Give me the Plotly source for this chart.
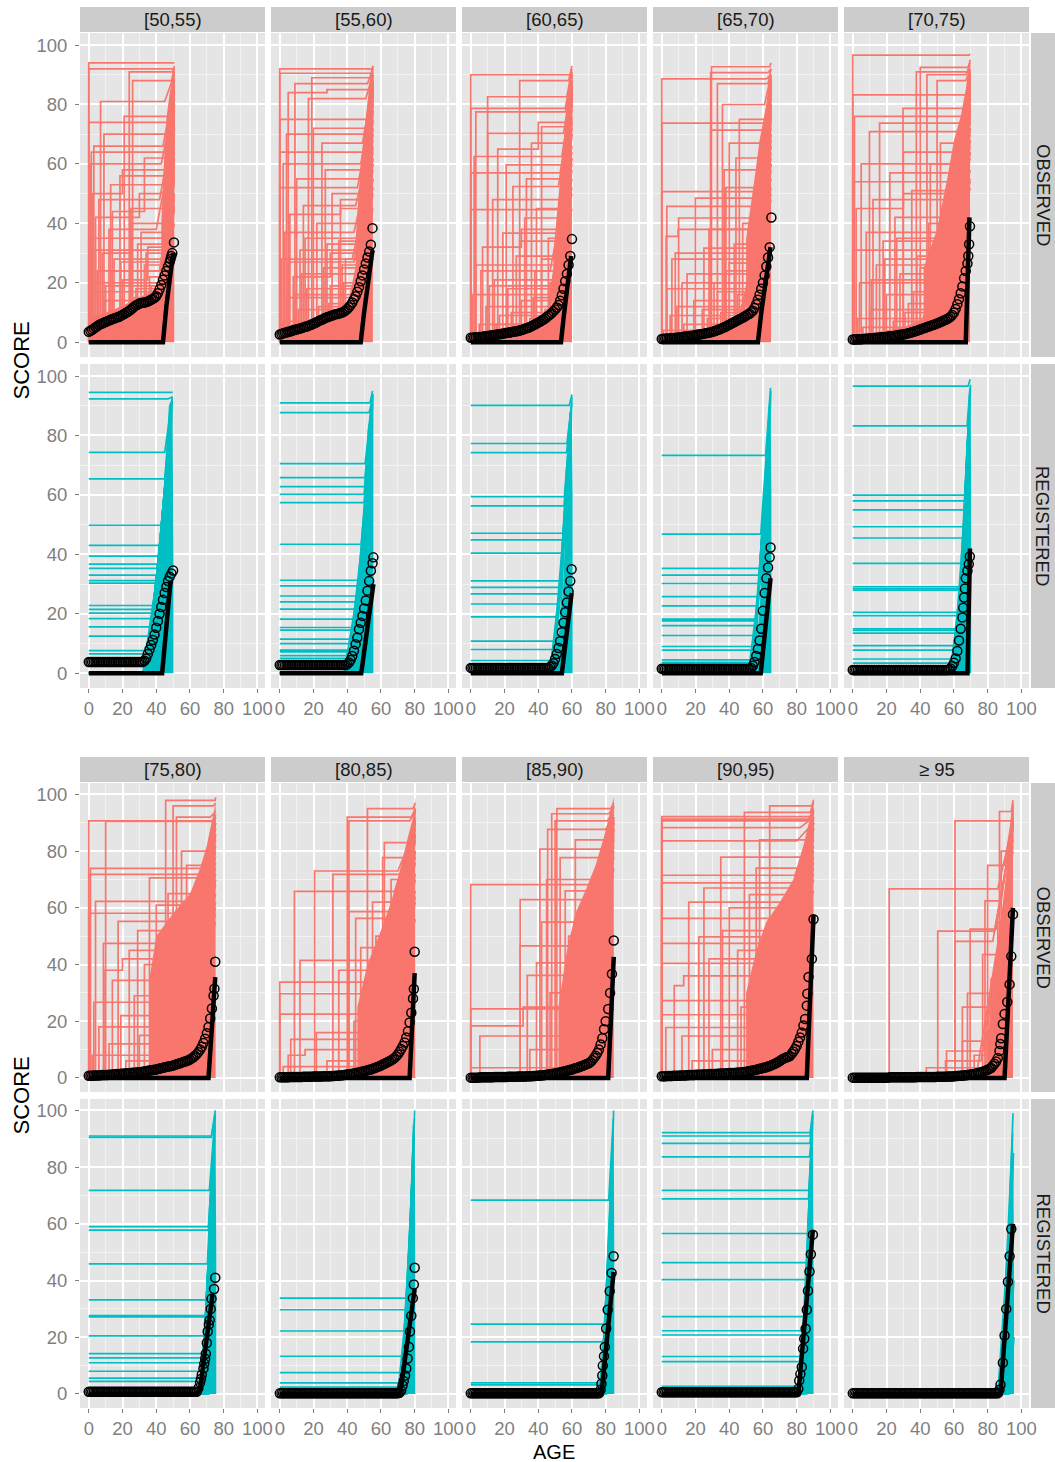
import plotly.graph_objects as go

W, H = 1055, 1462

GROUPS = ["[50,55)", "[55,60)", "[60,65)", "[65,70)", "[70,75)",
          "[75,80)", "[80,85)", "[85,90)", "[90,95)", "\u2265 95"]
ROW_LABELS = ["OBSERVED", "REGISTERED"]
END_AGE = [50.7, 55.2, 60.0, 64.8, 69.6, 75.2, 80.4, 84.8, 90.0, 95.0]

# ---- observed trajectories: (onset, level, last_age, final) or
# ---- (onset, level, step_age, level2, last_age, final)
OBS_50 = [
    (0, 94, 50.5, 94), (0, 92, 50.5, 93), (24, 91, 49.5, 92), (26, 88, 49, 92),
    (7, 81, 45, 90), (0, 74, 48, 91), (21, 76, 47, 89), (9, 70, 46, 88),
    (3, 66, 44, 86), (1.5, 64, 46, 84), (1, 60, 43, 82), (18.5, 56, 45, 80),
    (13, 53, 44, 78), (2, 50, 20, 58, 47, 85), (6, 48, 42, 75), (25, 45, 46, 80),
    (4, 42, 30, 50, 47, 82), (12, 38, 40, 70), (0, 35, 45, 72), (29, 33, 44, 65),
    (8, 30, 25, 40, 46, 70), (15, 28, 43, 60), (33, 26, 47, 75), (5, 24, 42, 55),
    (20, 21, 35, 32, 45, 62), (10, 19, 41, 50), (2, 17, 44, 58), (27, 15, 46, 66),
    (35, 13, 48, 80), (17, 11, 40, 45), (3, 9, 43, 50), (23, 8, 45, 60),
    (38, 7, 47, 72), (11, 6, 39, 40), (30, 5, 44, 55), (7, 4, 42, 45),
    (40, 12, 48, 85), (36, 22, 47, 78), (31, 37, 46, 76), (14, 44, 33, 62, 48, 88),
    (16, 3, 41, 48), (22, 10, 44, 62), (28, 18, 45, 70), (34, 30, 47, 80),
    (9, 14, 40, 46), (1, 20, 43, 56), (37, 19, 48, 84), (19, 27, 46, 72),
    (25, 35, 45, 74), (32, 8, 44, 60), (13, 24, 42, 54), (4, 31, 44, 62),
]
OBS_55 = [
    (0, 92, 55, 93), (0, 90.5, 54.5, 92), (19, 89, 54, 93), (9, 87, 52, 92),
    (5, 84, 28, 85, 53, 92), (17, 82, 51, 90), (0, 75, 52, 90), (4, 70, 50, 88),
    (20, 72, 53, 91), (25, 67, 49, 85), (0, 64, 51, 86), (2, 60, 48, 82),
    (27, 58, 50, 84), (10, 55, 47, 78), (0, 52, 46, 75), (31, 50, 49, 80),
    (14, 46, 45, 70), (6, 43, 36, 48, 48, 78), (22, 40, 47, 72), (3, 37, 44, 65),
    (35, 34, 50, 82), (12, 31, 46, 68), (1, 28, 43, 60), (26, 25, 48, 75),
    (8, 22, 30, 30, 45, 62), (38, 20, 51, 85), (16, 18, 44, 58), (4, 15, 42, 52),
    (29, 13, 47, 70), (11, 11, 43, 55), (41, 10, 52, 88), (20, 8, 45, 60),
    (2, 7, 40, 45), (33, 6, 49, 78), (7, 5, 44, 50), (24, 4, 46, 62),
    (44, 16, 53, 90), (39, 28, 51, 86), (36, 45, 50, 84), (15, 35, 47, 74),
    (18, 3, 44, 55), (23, 12, 46, 66), (30, 19, 48, 78), (37, 26, 50, 84),
    (9, 16, 42, 52), (13, 23, 45, 64), (42, 5, 52, 88), (5, 27, 44, 60),
    (28, 33, 48, 80), (33, 9, 47, 72),
]
OBS_60 = [
    (0, 90, 59.5, 91), (29, 88, 58, 93), (10, 82.6, 57, 92), (0, 78.7, 56, 90),
    (3, 77.5, 56, 88), (42, 72.5, 57, 90), (10, 70.3, 55, 88), (36, 67, 56, 86),
    (2, 62.5, 54, 84), (21, 59.7, 55, 85), (0, 57, 53, 82), (25, 52.4, 52, 80),
    (13, 48, 54, 82), (0, 44.6, 53, 80), (32, 41.8, 52, 75), (19, 36.7, 51, 72),
    (7, 32, 30, 38, 54, 85), (27, 29, 50, 70), (3, 26, 52, 74), (38, 24, 55, 86),
    (14, 21, 49, 66), (22, 18, 51, 72), (1, 16, 47, 60), (30, 14, 53, 80),
    (9, 12, 46, 55), (44, 11, 56, 88), (17, 9, 50, 70), (35, 8, 52, 76),
    (5, 6, 45, 50), (26, 5, 48, 62), (40, 4, 54, 84), (12, 3, 43, 45),
    (47, 20, 57, 90), (46, 35, 56, 88), (33, 55, 55, 86), (16, 65, 40, 74, 57, 91),
    (20, 2, 46, 58), (24, 10, 50, 74), (37, 15, 53, 82), (42, 28, 55, 86),
    (11, 19, 48, 64), (6, 24, 47, 62), (29, 34, 52, 78), (45, 7, 56, 88),
    (15, 6, 45, 52), (39, 45, 54, 84),
]
OBS_65 = [
    (29.5, 92.7, 64, 94), (29, 90.7, 63, 92), (0, 88.6, 62, 90), (33, 87, 63, 92),
    (36, 80, 61, 90), (0, 73.7, 61, 88), (29, 71.4, 60, 86), (46, 75, 62, 90),
    (40, 67, 59, 85), (44, 62, 60, 86), (37, 58, 58, 82), (0, 50.7, 58, 80),
    (20, 48.5, 57, 78), (3, 45.7, 56, 75), (10, 41.8, 57, 80), (2.6, 35.6, 9.7, 38, 55, 72),
    (25, 31.7, 56, 76), (6, 28, 54, 70), (40, 26.6, 58, 84), (15, 23, 53, 66),
    (31, 20, 55, 74), (3, 18, 50, 60), (45, 16, 59, 86), (19, 14, 52, 64),
    (9, 12, 48, 55), (35, 10, 56, 78), (27, 8, 53, 68), (13, 6, 47, 52),
    (50, 7, 60, 88), (1, 4, 45, 48), (42, 3, 57, 80), (22, 2.5, 51, 60),
    (48, 40, 60, 89), (38, 52, 59, 86),
    (17, 3, 49, 58), (24, 11, 53, 70), (33, 17, 55, 78), (38, 24, 58, 84),
    (12, 20, 51, 62), (5, 9, 46, 50), (43, 33, 59, 86), (47, 11, 60, 88),
    (28, 38, 57, 80), (8, 30, 52, 66),
]
OBS_70 = [
    (0, 96.6, 69, 97), (0, 83.2, 68, 92), (37.7, 91, 68, 94), (44, 90, 67, 93),
    (40, 92.5, 68.5, 95), (50, 88, 67, 92), (29.8, 78.7, 66, 90), (1, 76, 65, 88),
    (15.9, 73.7, 65, 87), (9.9, 70.9, 64, 85), (52, 67, 66, 88), (30, 64, 63, 84),
    (5, 60, 62, 82), (22, 57, 64, 84), (0, 54, 61, 80), (35, 51, 63, 82),
    (12, 48, 60, 76), (2, 45, 30, 50, 62, 80), (25, 42, 61, 78), (45, 40, 65, 88),
    (8, 37, 59, 72), (18, 34, 60, 75), (0, 31, 58, 70), (38, 29, 62, 80),
    (14, 26, 57, 68), (28, 23, 59, 74), (4, 20, 55, 62), (48, 18, 64, 86),
    (20, 16, 56, 66), (33, 13, 58, 72), (10, 11, 54, 58), (42, 9, 61, 78),
    (24, 7, 55, 64), (6, 5, 52, 55), (55, 6, 65, 90), (16, 3, 50, 52),
    (58, 22, 66, 91), (53, 45, 66, 90), (46, 60, 65, 89),
    (27, 2, 57, 68), (31, 10, 59, 76), (36, 17, 61, 80), (40, 25, 63, 84),
    (11, 21, 56, 64), (19, 28, 58, 72), (44, 14, 64, 88), (50, 30, 65, 90),
    (3, 8, 50, 54), (26, 35, 60, 78),
]
OBS_75 = [
    (0, 90.7, 74, 91), (10, 90.5, 73, 92), (45.6, 97.9, 75, 99), (50, 96, 74, 97),
    (52, 92, 72, 94), (1, 73.9, 70, 90), (0, 71.8, 69, 88), (36, 70.6, 68, 88),
    (4, 62.3, 66, 85), (40, 61, 67, 86), (0, 58.1, 65, 84), (17.4, 55.2, 64, 80),
    (8.7, 47.5, 63, 78), (24, 45, 62, 76), (14, 34.4, 60, 72), (27, 29, 59, 70),
    (3, 26.7, 58, 68), (19, 22, 57, 65), (6, 18, 55, 60), (30, 15, 58, 70),
    (12, 12, 54, 58), (2, 8, 52, 55), (22, 6, 56, 62), (33, 40, 64, 82),
    (29, 52, 66, 86), (55, 80, 71, 93), (58, 75, 70, 92), (47, 65, 69, 90),
    (9, 38, 20, 42, 61, 74),
]
OBS_80 = [
    (52, 95, 79, 97), (40, 92, 78, 95), (41, 90.7, 77, 94), (62, 83, 76, 92),
    (61, 77.7, 75, 90), (20.6, 73, 70, 88), (31.5, 71.8, 72, 90), (8.7, 65.8, 68, 86),
    (41, 58.7, 70, 86), (45, 56.3, 69, 84), (12, 41.5, 66, 80), (0, 33.8, 65, 78),
    (0, 29.7, 64, 76), (0, 22.5, 63, 72), (21.7, 16, 62, 70), (6.5, 13.6, 60, 66),
    (5, 8, 15, 10, 58, 62), (2, 4, 55, 56), (28, 6, 60, 64), (35, 38, 68, 84),
    (48, 46, 72, 88), (55, 62, 74, 91), (57, 50, 73, 90), (51, 25, 70, 86),
    (44, 20, 66, 80), (66, 70, 77, 95),
]
OBS_85 = [
    (51, 95, 83, 97), (48, 93.2, 82, 96), (50, 90.7, 81, 94), (45.6, 87.7, 80, 93),
    (41, 80.7, 79, 92), (53, 77.7, 78, 90), (0, 68.2, 62, 68.2, 80, 90),
    (29.3, 62.9, 78, 90), (29.3, 46.6, 77, 88), (39, 40.6, 76, 86), (33.5, 36.2, 75, 85),
    (0, 24.4, 74, 84), (0, 18.4, 31, 25, 73, 82), (5.4, 14.8, 70, 78), (0, 3.6, 68, 74),
    (35, 10, 72, 80), (42, 55, 78, 90), (47, 30, 76, 88), (56, 66, 80, 92),
    (58, 50, 79, 91), (60, 20, 77, 88), (62, 84, 82, 96), (45, 70, 79, 92),
]
OBS_90 = [
    (64, 96, 89, 98), (49, 93.7, 88, 97), (0, 92.2, 88, 95), (0, 91.3, 87, 94),
    (0, 90.7, 86, 93), (0, 88.3, 82, 92), (0, 83.6, 80, 90), (35, 77.9, 84, 92),
    (0, 71.5, 79, 90), (0, 68.8, 78, 88), (25, 67, 77, 88), (52, 64.7, 80, 90),
    (0, 56.3, 76, 86), (22, 49.8, 75, 85), (0, 47.5, 74, 84), (0, 40.4, 73, 82),
    (7.4, 32.6, 13, 36, 72, 80), (0, 27.3, 71, 78), (0, 22.3, 70, 76), (2.4, 17.8, 68, 74),
    (12, 14.8, 66, 72), (30, 10, 64, 70), (18, 6, 62, 66), (40, 60, 82, 92),
    (45, 45, 80, 90), (56, 74, 85, 94), (58, 84, 86, 95), (60, 35, 82, 90),
    (47, 25, 79, 88), (36, 52, 81, 91), (28, 42, 78, 88), (16, 62, 83, 92),
]
OBS_95 = [
    (87, 94, 94, 98), (60.6, 90.7, 94, 96), (21.6, 66.7, 86, 90), (78.4, 62.5, 88, 92),
    (50.4, 51.8, 84, 88), (69.6, 52.5, 85, 90), (60.6, 48.2, 83, 88), (77, 43.5, 86, 90),
    (68, 29.8, 84, 88), (65, 25, 82, 86), (65, 13, 80, 85), (55.6, 9.5, 78, 84),
    (55, 6, 76, 82), (43.6, 3.6, 74, 80), (80, 75, 90, 94), (82, 35, 89, 92),
    (84, 20, 88, 93), (86, 55, 92, 96), (88, 80, 93, 97), (79, 15, 87, 91),
    (72, 8, 85, 89),
]

# ---- regions where observed trajectories overlap into a solid mass (age, score)
DENSE_50 = [[(43, 0), (43, 40), (44.5, 60), (46, 75), (48, 84), (50.7, 92), (50.7, 0)],
            [(0, 0), (0, 8), (15, 11), (30, 15), (43, 19), (43, 0)]]
DENSE_55 = [[(45, 0), (45, 35), (48, 60), (51, 76), (53, 86), (55.2, 93), (55.2, 0)],
            [(0, 0), (0, 5), (20, 8), (35, 11), (45, 14), (45, 0)]]
DENSE_60 = [[(49, 0), (49, 30), (53, 55), (56, 72), (58, 85), (60, 93), (60, 0)],
            [(0, 0), (0, 3), (30, 6), (49, 10), (49, 0)]]
DENSE_65 = [[(50, 0), (50, 35), (55, 55), (58, 68), (62, 80), (64.8, 93), (64.8, 0)],
            [(0, 0), (0, 2), (30, 4), (50, 8), (50, 0)]]
DENSE_70 = [[(42, 0), (42, 25), (50, 38), (56, 55), (60, 68), (64, 76), (67, 85), (69.6, 96), (69.6, 0)],
            [(0, 0), (0, 2), (30, 5), (42, 8), (42, 0)]]
DENSE_75 = [[(36, 0), (36, 35), (40, 50), (50, 58), (60, 65), (66, 74), (70, 82), (73, 90), (75.2, 97), (75.2, 0)],
            [(0, 0), (0, 1), (36, 2.5), (36, 0)]]
DENSE_80 = [[(46, 0), (46, 25), (52, 40), (60, 52), (66, 62), (72, 75), (76, 85), (79, 92), (80.4, 99), (80.4, 0)]]
DENSE_85 = [[(52, 0), (52, 25), (57, 45), (62, 58), (68, 66), (74, 75), (79, 85), (82, 92), (84.8, 99), (84.8, 0)]]
DENSE_90 = [[(50, 0), (50, 30), (56, 45), (62, 55), (70, 62), (78, 70), (84, 82), (88, 92), (90, 99), (90, 0)]]
DENSE_95 = [[(80, 0), (80, 15), (84, 30), (88, 50), (91, 70), (93, 85), (95, 98), (95, 0)]]

# ---- registered trajectories: (level, age_leaving_level, final_age, final_score)
REG_50 = [
    (94.5, 49.6, 49.8, 94.5), (92.3, 47, 49.6, 93), (74.3, 45, 49.5, 92), (65.4, 45, 49.2, 90),
    (49.8, 43, 49, 88), (43, 42, 48.8, 86), (39.4, 41.5, 48.5, 85), (36.7, 41, 48.5, 84),
    (35.3, 41, 48.3, 83), (33, 40.5, 48, 82), (31.2, 40, 48, 80), (30.3, 40, 47.8, 78),
    (22.8, 38.5, 47.5, 76), (21.5, 38.5, 47.5, 74), (20.2, 38, 47.2, 72), (18.4, 37.5, 47, 70),
    (15.6, 37, 46.8, 68), (12.5, 36.5, 46.5, 65), (7.6, 35, 46, 60), (6.5, 35, 46, 58),
    (5.2, 34, 45.5, 55), (0, 32, 45, 50), (0, 34, 46, 62), (0, 36, 47, 75),
    (0, 38, 48, 82), (0, 40, 48.5, 88), (0, 42, 49, 91), (0, 44, 49.5, 93),
]
REG_55 = [
    (91, 53.5, 55, 95), (87.7, 53, 54.8, 92), (70.5, 50.6, 54.5, 90), (65.8, 50.5, 54.2, 88),
    (62.8, 50.3, 54, 86), (60.2, 50, 54, 85), (57.4, 50, 53.8, 84), (43.4, 48.3, 53.5, 80),
    (31.3, 47.5, 53, 76), (29.4, 47.3, 53, 74), (26, 47, 52.8, 72), (24, 46.8, 52.5, 70),
    (21.6, 46.5, 52.5, 68), (18.2, 46, 52, 65), (15.4, 45.5, 52, 62), (14.5, 45.5, 51.8, 60),
    (11.5, 44.5, 51.5, 58), (10, 44, 51.5, 55), (7.8, 43.5, 51, 52), (7.2, 43.5, 51, 50),
    (5.9, 43, 50.5, 48), (5, 43, 50.5, 46), (0, 38, 50, 40), (0, 40, 52, 60),
    (0, 42, 53, 75), (0, 44, 54, 85), (0, 46, 55, 92), (0, 48, 55.3, 94),
]
REG_60 = [
    (90.1, 58.4, 60, 93.8), (77.3, 57, 59.8, 91), (74.2, 56.8, 59.7, 90), (59.4, 55.5, 59.5, 88),
    (56.3, 55.3, 59.3, 86), (47.1, 54.8, 59, 84), (44.9, 54.6, 59, 82), (40.4, 54, 58.8, 80),
    (31.1, 53.5, 58.5, 76), (28.9, 53.3, 58.3, 74), (26.7, 53, 58, 72), (23.3, 52.6, 58, 70),
    (19, 52, 57.6, 66), (10.8, 50.5, 57, 60), (8, 50, 56.8, 56), (4.3, 49, 56.5, 52),
    (0, 46.8, 55, 40), (0, 48, 56, 55), (0, 50, 57, 70), (0, 52, 58, 80),
    (0, 53.5, 59, 88), (0, 55, 60, 93),
]
REG_65 = [
    (73.3, 61.6, 64.5, 96), (46.8, 58.7, 64.2, 92), (35.3, 58, 64, 88), (33, 58, 63.8, 86),
    (30.2, 57.5, 63.5, 84), (25.8, 57, 63.3, 80), (22.7, 56.8, 63, 78), (18.2, 56.3, 62.8, 75),
    (17.6, 56.2, 62.8, 72), (16, 56, 62.5, 70), (12.7, 55.5, 62.2, 66), (9, 55, 62, 62),
    (7.8, 54.8, 61.8, 58), (4.5, 54, 61.5, 54), (3.7, 53.8, 61.3, 50), (0, 51.4, 60, 40),
    (0, 53, 62, 65), (0, 55, 63, 80), (0, 57, 64, 90), (0, 58.5, 64.7, 95),
]
REG_70 = [
    (96.6, 68.4, 69.6, 98.9), (83.2, 67.8, 69.5, 96), (59.9, 66.5, 69.3, 94), (58, 66.4, 69.2, 92),
    (55, 66.2, 69.1, 90), (49.3, 65.8, 69, 88), (45.5, 65.5, 68.9, 86), (37, 65, 68.8, 84),
    (29.1, 64.4, 68.5, 80), (28.5, 64.3, 68.5, 78), (28, 64.2, 68.4, 76), (20.5, 63.5, 68.2, 72),
    (19.4, 63.4, 68.2, 70), (14.9, 62.8, 68, 66), (14.4, 62.7, 68, 64), (13.5, 62.6, 67.8, 62),
    (9.3, 61.8, 67.6, 58), (7.8, 61.5, 67.5, 55), (4.8, 60.5, 67.2, 50), (3.4, 60, 67, 46),
    (0, 57.8, 66, 40), (0, 59.5, 67, 60), (0, 61, 68, 78), (0, 62.5, 69, 90), (0, 64, 69.8, 97),
]
REG_75 = [
    (91, 72.8, 75, 100), (90.5, 72.6, 74.8, 98), (71.8, 71.5, 74.5, 95), (59, 71, 74.3, 92),
    (57.8, 70.9, 74.2, 90), (45.9, 70.3, 74, 88), (33.2, 69.7, 73.8, 85), (27.6, 69.3, 73.6, 82),
    (27.2, 69.2, 73.5, 80), (20.5, 68.8, 73.3, 76), (14.2, 68.2, 73, 72), (12.7, 68, 72.8, 68),
    (11, 67.8, 72.6, 64), (8, 67.3, 72.4, 60), (5.6, 66.8, 72.2, 55), (4.4, 66.5, 72, 50),
    (0, 65.6, 71.5, 40), (0, 67, 72.5, 65), (0, 68.5, 73.5, 85), (0, 70, 74.5, 95), (0, 71.5, 75, 99),
]
REG_80 = [
    (33.8, 76.5, 79.3, 95), (29.7, 76.2, 79.2, 92), (22.2, 75.7, 79, 88), (13.3, 74.6, 78.8, 84),
    (7.5, 73.5, 78.5, 78), (3.9, 72.5, 78.2, 72), (2.4, 72, 78, 66), (0, 70, 77.5, 45),
    (0, 71.5, 78.5, 70), (0, 73, 79.3, 88), (0, 74.5, 79.8, 97), (0, 75.5, 80, 100),
]
REG_85 = [
    (68.4, 81.8, 84.5, 97), (24.6, 79.5, 84, 88), (18.4, 79, 83.8, 82), (3.9, 77.5, 83.5, 72),
    (3.2, 77.2, 83.2, 65), (0, 76, 82.5, 45), (0, 77.5, 83.5, 75), (0, 79, 84.3, 92), (0, 80.5, 84.7, 100),
]
REG_90 = [
    (92.2, 88, 89.6, 100), (91, 87.9, 89.5, 98), (88.4, 87.8, 89.4, 96), (83.6, 87.6, 89.3, 94),
    (71.8, 87.2, 89.2, 92), (68.8, 87, 89, 90), (56.6, 86.5, 88.9, 88), (46.3, 86, 88.7, 86),
    (40.3, 85.8, 88.5, 84), (27.3, 85, 88.3, 80), (22.3, 84.7, 88.2, 76), (20.8, 84.6, 88, 72),
    (13.2, 83.8, 87.8, 66), (11.4, 83.5, 87.6, 62), (2.7, 82, 87.3, 55), (2.2, 81.8, 87, 50),
    (0, 80.3, 86.5, 40), (0, 82, 87.5, 70), (0, 84, 88.7, 90), (0, 86, 89.6, 99),
]
REG_95 = [
    (0, 86, 94, 70), (0, 87.5, 94.8, 92), (0, 89, 95, 99), (0, 90.5, 95.3, 85),
    (0, 92, 95.5, 40), (0, 93, 95.6, 20),
]

# ---- solid fan of registered trajectories rising at the end (age, score)
FAN_50 = [(32, 0), (35, 8), (39, 20), (42, 38), (44, 58), (46, 78), (47.5, 90), (49.6, 93), (50.2, 40), (50.2, 0)]
FAN_55 = [(38, 0), (42.5, 11), (47, 31), (49.7, 51), (52, 81.5), (54.9, 95), (55.5, 90), (55.5, 0)]
FAN_60 = [(46.8, 0), (52.6, 14.3), (55.5, 31), (57.5, 59), (59.8, 93.8), (60.4, 60), (60.4, 0)]
FAN_65 = [(51.4, 0), (55.8, 8.7), (58, 20), (60, 36.7), (63, 70), (64.5, 96), (65, 60), (65, 0)]
FAN_70 = [(57.8, 0), (62, 14.3), (64.2, 36.7), (67, 70), (69.9, 98.9), (70.2, 60), (70.2, 0)]
FAN_75 = [(65.6, 0), (68.5, 10), (70.5, 33.8), (72.3, 69.4), (75.1, 100), (75.6, 50), (75.6, 0)]
FAN_80 = [(70, 0), (74.3, 12.5), (76.6, 33.8), (78.6, 69.4), (80, 100), (80.4, 50), (80.4, 0)]
FAN_85 = [(76, 0), (79, 12.5), (81.2, 45.7), (84.7, 100), (85.1, 50), (85.1, 0)]
FAN_90 = [(80.3, 0), (82.4, 10), (85.3, 33.8), (87.6, 69.4), (89.6, 100), (90, 50), (90, 0)]
FAN_95 = [(86, 0), (90, 12), (92, 35), (93.6, 70.8), (95, 99.2), (95.6, 50), (95.6, 0)]

# ---- median trajectory (age, score)
MED_OBS = [
    [(0, 0), (44, 0), (46, 12), (50, 30)],
    [(0, 0), (48, 0), (50, 10), (55, 31)],
    [(0, 0), (53.5, 0), (55, 8), (59.5, 29)],
    [(0, 0), (57, 0), (59, 10), (64.5, 32)],
    [(0, 0), (67, 0), (69.2, 42)],
    [(0, 0), (71, 0), (75, 35.6)],
    [(0, 0), (77, 0), (80, 37)],
    [(0, 0), (81.5, 0), (84.8, 42.7)],
    [(0, 0), (86, 0), (90, 57.5)],
    [(0, 0), (90, 0), (95, 60)],
]
MED_REG = [
    [(0, 0), (43.5, 0), (48.5, 31)],
    [(0, 0), (48.3, 0), (55.5, 30)],
    [(0, 0), (54, 0), (59.8, 27)],
    [(0, 0), (58.7, 0), (64.5, 32)],
    [(0, 0), (68, 0), (69.5, 42)],
    [(0, 0), (64, 0), (66, 2), (73.4, 35)],
    [(0, 0), (71.4, 0), (80, 37)],
    [(0, 0), (77.5, 0), (84.7, 43)],
    [(0, 0), (81, 0), (89.6, 57.8)],
    [(0, 0), (87.6, 0), (95, 60)],
]

# ---- mean score by age: one value per year of age, then the final rise
MO50_AGE = list(range(41)) + [41, 42, 43, 44, 45, 46, 47, 48, 48.5, 49, 49.5, 50.5]
MO50_VAL = [3.5, 3.9, 4.2, 4.6, 5, 5.4, 5.8, 6.1, 6.3, 6.6, 6.8, 7.1, 7.3, 7.6, 7.8, 8, 8.2, 8.4, 8.6, 8.9,
            9.2, 9.5, 9.9, 10.2, 10.6, 11, 11.5, 12, 12.4, 12.7, 13, 13.2, 13.3, 13.4, 13.5, 13.7, 14, 14.3,
            14.6, 15, 15.5,
            16.5, 17.8, 19.3, 21, 22.5, 24, 25.5, 27, 28, 29, 30, 33.6]
MO55_AGE = list(range(55)) + [55]
MO55_VAL = [2.6, 2.8, 3, 3.2, 3.3, 3.5, 3.6, 3.8, 4, 4.2, 4.3, 4.5, 4.6, 4.8, 5, 5.2, 5.3, 5.5, 5.8, 6,
            6.3, 6.5, 6.8, 7.1, 7.4, 7.6, 7.9, 8.2, 8.4, 8.6, 8.8, 9, 9.2, 9.4, 9.5, 9.7, 9.8, 10, 10.3, 10.7,
            11.2, 11.8, 12.5, 13.4, 14.5, 15.5, 17, 18.5, 20.5, 22.5, 24.5, 26.5, 28.5, 30.5, 32.8,
            38.4]
MO60_AGE = list(range(60)) + [60]
MO60_VAL = [1.5, 1.55, 1.6, 1.65, 1.7, 1.75, 1.8, 1.85, 1.9, 2, 2.1, 2.2, 2.3, 2.35, 2.4, 2.5, 2.6, 2.7, 2.8, 2.9,
            3, 3.1, 3.2, 3.3, 3.4, 3.5, 3.6, 3.7, 3.8, 3.95, 4.1, 4.3, 4.5, 4.7, 4.9, 5.1, 5.4, 5.7, 6, 6.3,
            6.6, 6.9, 7.3, 7.6, 8, 8.4, 8.9, 9.3, 9.8, 10.4, 11, 11.7, 12.5, 14, 15.8, 18, 20.5, 23, 26, 29,
            34.7]
MO65_AGE = list(range(65)) + [65]
MO65_VAL = [1.1, 1.15, 1.2, 1.25, 1.3, 1.35, 1.4, 1.45, 1.5, 1.55, 1.6, 1.7, 1.8, 1.85, 1.9, 1.95, 2, 2.1, 2.2, 2.3,
            2.4, 2.5, 2.6, 2.7, 2.8, 2.9, 3, 3.1, 3.2, 3.35, 3.5, 3.7, 3.9, 4.1, 4.3, 4.55, 4.8, 5.05, 5.3, 5.6,
            5.9, 6.2, 6.5, 6.8, 7.1, 7.4, 7.7, 8, 8.3, 8.6, 9, 9.3, 9.6, 10.1, 10.6, 11.5, 12.8, 14.3, 16, 18,
            20, 22.5, 25.5, 28.5, 32,
            42]
MO70_AGE = list(range(69)) + [68.5, 69, 69.5]
MO70_VAL = [0.9, 0.95, 1, 1, 1, 1.05, 1.1, 1.15, 1.2, 1.25, 1.3, 1.35, 1.4, 1.45, 1.5, 1.55, 1.6, 1.65, 1.7, 1.75,
            1.8, 1.9, 2, 2.05, 2.1, 2.2, 2.3, 2.4, 2.5, 2.55, 2.6, 2.75, 2.9, 3.05, 3.2, 3.35, 3.5, 3.7, 3.9, 4.1,
            4.3, 4.5, 4.7, 4.9, 5.1, 5.3, 5.5, 5.7, 5.9, 6.1, 6.3, 6.55, 6.8, 7.05, 7.3, 7.55, 7.8, 8.2, 8.6, 9.2,
            10, 11.2, 12.8, 14.5, 16.5, 18.8, 21.5, 24, 26.5,
            29, 33, 39]
MO75_AGE = list(range(75)) + [74.5, 75]
MO75_VAL = [0.8, 0.8, 0.8, 0.85, 0.9, 0.9, 0.9, 0.95, 1, 1, 1, 1.05, 1.1, 1.15, 1.2, 1.25, 1.3, 1.35, 1.4, 1.45,
            1.5, 1.55, 1.6, 1.65, 1.7, 1.75, 1.8, 1.85, 1.9, 1.95, 2, 2.1, 2.2, 2.3, 2.4, 2.5, 2.6, 2.7, 2.8, 2.9,
            3, 3.15, 3.3, 3.45, 3.6, 3.75, 3.9, 4, 4.1, 4.25, 4.4, 4.6, 4.8, 5, 5.2, 5.4, 5.6, 5.8, 6, 6.25,
            6.5, 6.9, 7.3, 7.8, 8.4, 9.1, 10, 11, 12.3, 13.8, 15.8, 18, 21, 24.5, 29,
            31.5, 41]
MO80_AGE = list(range(80)) + [79.5, 80]
MO80_VAL = [0.2, 0.2, 0.2, 0.2, 0.2, 0.25, 0.3, 0.3, 0.3, 0.3, 0.3, 0.3, 0.3, 0.35, 0.4, 0.4, 0.4, 0.4, 0.4, 0.45,
            0.5, 0.5, 0.5, 0.5, 0.5, 0.55, 0.6, 0.6, 0.6, 0.6, 0.6, 0.65, 0.7, 0.75, 0.8, 0.85, 0.9, 0.95, 1, 1.1,
            1.2, 1.3, 1.4, 1.5, 1.6, 1.7, 1.8, 1.95, 2.1, 2.25, 2.4, 2.55, 2.7, 2.85, 3, 3.2, 3.4, 3.65, 3.9, 4.15,
            4.4, 4.7, 5, 5.3, 5.6, 5.9, 6.2, 6.6, 7, 7.6, 8.3, 9.2, 10.2, 11.3, 12.5, 14.3, 16.5, 19.6, 23, 28,
            31.4, 44.5]
MO85_AGE = list(range(81)) + [81.5, 82.6, 83.7, 84.8]
MO85_VAL = [0.1, 0.1, 0.1, 0.1, 0.1, 0.15, 0.2, 0.2, 0.2, 0.2, 0.2, 0.2, 0.2, 0.25, 0.3, 0.3, 0.3, 0.3, 0.3, 0.3,
            0.3, 0.35, 0.4, 0.4, 0.4, 0.4, 0.4, 0.45, 0.5, 0.5, 0.5, 0.5, 0.5, 0.55, 0.6, 0.6, 0.6, 0.65, 0.7, 0.75,
            0.8, 0.85, 0.9, 0.95, 1, 1.1, 1.2, 1.3, 1.4, 1.5, 1.6, 1.7, 1.8, 1.95, 2.1, 2.25, 2.4, 2.55, 2.7, 2.85,
            3, 3.2, 3.4, 3.6, 3.8, 4, 4.2, 4.45, 4.7, 4.95, 5.2, 5.6, 6.2, 7, 7.8, 8.8, 10, 11.8, 14, 17.2,
            20,
            24.3, 30, 36.7, 48.5]
MO90_AGE = list(range(87)) + [86.3, 87, 89, 90]
MO90_VAL = [0.6, 0.6, 0.6, 0.65, 0.7, 0.7, 0.7, 0.75, 0.8, 0.8, 0.8, 0.85, 0.9, 0.9, 0.9, 0.95, 1, 1, 1, 1.05,
            1.1, 1.1, 1.1, 1.15, 1.2, 1.2, 1.2, 1.25, 1.3, 1.35, 1.4, 1.4, 1.4, 1.45, 1.5, 1.55, 1.6, 1.6, 1.6, 1.65,
            1.7, 1.7, 1.7, 1.75, 1.8, 1.85, 1.9, 1.95, 2, 2.1, 2.2, 2.3, 2.4, 2.5, 2.6, 2.75, 2.9, 3.05, 3.2, 3.35,
            3.5, 3.65, 3.8, 4, 4.2, 4.45, 4.7, 5, 5.3, 5.65, 6, 6.4, 6.8, 7.05, 7.3, 7.5, 7.7, 8.5, 9.3, 10.2,
            11.3, 12.8, 14.3, 16, 18.5, 20.8, 25.5,
            29.7, 35.6, 42, 56]
MO95_AGE = list(range(90)) + [87.5, 90, 91.6, 93, 94, 95]
MO95_VAL = [0.1, 0.1, 0.1, 0.1, 0.1, 0.1, 0.1, 0.1, 0.1, 0.1, 0.1, 0.1, 0.1, 0.1, 0.1, 0.1, 0.1, 0.1, 0.1, 0.1,
            0.1, 0.1, 0.2, 0.2, 0.2, 0.2, 0.2, 0.2, 0.2, 0.2, 0.2, 0.2, 0.2, 0.2, 0.2, 0.2, 0.2, 0.2, 0.3, 0.3,
            0.3, 0.3, 0.3, 0.3, 0.3, 0.3, 0.3, 0.3, 0.3, 0.3, 0.4, 0.4, 0.4, 0.4, 0.4, 0.4, 0.5, 0.5, 0.5, 0.5,
            0.6, 0.65, 0.7, 0.75, 0.8, 0.85, 0.9, 0.95, 1, 1.1, 1.2, 1.3, 1.4, 1.55, 1.7, 1.85, 2, 2.2, 2.4, 2.65,
            2.9, 3.2, 3.5, 4.2, 5, 5.8, 7, 9.5, 14, 19,
            12, 22.6, 26.8, 33, 42.9, 57.7]

MR50_AGE = list(range(33)) + [33, 34, 35, 36, 37, 38, 39, 40, 41, 42, 43, 44, 45, 46, 47, 48, 49, 50]
MR50_VAL = [3.8, 3.8, 3.8, 3.8, 3.8, 3.8, 3.8, 3.8, 3.8, 3.8, 3.8, 3.8, 3.8, 3.8, 3.8, 3.8, 3.8, 3.8, 3.8, 3.8,
            3.8, 3.8, 3.8, 3.8, 3.8, 3.8, 3.8, 3.8, 3.8, 3.8, 3.8, 3.8, 3.8,
            4.2, 5, 6.5, 8, 9.5, 11.2, 13, 15.3, 17.6, 20, 22.3, 24.7, 27, 29, 31, 32.5, 33.6, 34.6]
MR55_AGE = list(range(40)) + [40, 41, 42, 43, 44, 45, 46, 47, 48, 49, 50, 51, 52, 53, 54, 55, 55.5]
MR55_VAL = [2.8, 2.8, 2.8, 2.8, 2.8, 2.8, 2.8, 2.8, 2.8, 2.8, 2.8, 2.8, 2.8, 2.8, 2.8, 2.8, 2.8, 2.8, 2.8, 2.8,
            2.8, 2.8, 2.8, 2.8, 2.8, 2.8, 2.8, 2.8, 2.8, 2.8, 2.8, 2.8, 2.8, 2.8, 2.8, 2.8, 2.8, 2.8, 2.8, 2.8,
            3, 3.6, 4.5, 5.8, 7.6, 9.8, 12, 14.8, 17, 19.3, 21.8, 24.5, 27.8, 31, 34.5, 37, 39]
MR60_AGE = list(range(47)) + [47, 48, 49, 50, 51, 52, 53, 54, 55, 56, 57, 58, 59, 59.8]
MR60_VAL = [1.8, 1.8, 1.8, 1.8, 1.8, 1.8, 1.8, 1.8, 1.8, 1.8, 1.8, 1.8, 1.8, 1.8, 1.8, 1.8, 1.8, 1.8, 1.8, 1.8,
            1.8, 1.8, 1.8, 1.8, 1.8, 1.8, 1.8, 1.8, 1.8, 1.8, 1.8, 1.8, 1.8, 1.8, 1.8, 1.8, 1.8, 1.8, 1.8, 1.8,
            1.8, 1.8, 1.8, 1.8, 1.8, 1.8, 1.8,
            2.1, 2.6, 3.4, 4.8, 6.5, 8.5, 10.8, 13.8, 17, 20.5, 23.8, 27.5, 31, 35]
MR65_AGE = list(range(53)) + [53, 54, 55, 56, 57, 58, 59, 60, 61, 62, 63, 64, 64.5]
MR65_VAL = [1.5, 1.5, 1.5, 1.5, 1.5, 1.5, 1.5, 1.5, 1.5, 1.5, 1.5, 1.5, 1.5, 1.5, 1.5, 1.5, 1.5, 1.5, 1.5, 1.5,
            1.5, 1.5, 1.5, 1.5, 1.5, 1.5, 1.5, 1.5, 1.5, 1.5, 1.5, 1.5, 1.5, 1.5, 1.5, 1.5, 1.5, 1.5, 1.5, 1.5,
            1.5, 1.5, 1.5, 1.5, 1.5, 1.5, 1.5, 1.5, 1.5, 1.5, 1.5, 1.5, 1.5,
            1.8, 2.5, 3.8, 5.8, 8.2, 11, 15, 21, 27, 32, 35.6, 39, 42.3]
MR70_AGE = list(range(57)) + [57, 58, 59, 60, 61, 62, 63, 64, 65, 65.5, 66, 66.5, 67, 68, 68.8, 69.4]
MR70_VAL = [1.1, 1.1, 1.1, 1.1, 1.1, 1.1, 1.1, 1.1, 1.1, 1.1, 1.1, 1.1, 1.1, 1.1, 1.1, 1.1, 1.1, 1.1, 1.1, 1.1,
            1.1, 1.1, 1.1, 1.1, 1.1, 1.1, 1.1, 1.1, 1.1, 1.1, 1.1, 1.1, 1.1, 1.1, 1.1, 1.1, 1.1, 1.1, 1.1, 1.1,
            1.1, 1.1, 1.1, 1.1, 1.1, 1.1, 1.1, 1.1, 1.1, 1.1, 1.1, 1.1, 1.1, 1.1, 1.1, 1.1, 1.1,
            1.3, 1.6, 2.4, 3.5, 5, 7.5, 11, 15, 18.8, 22, 25.5, 28.5, 32, 34.5, 36.7, 39.3]
MR75_AGE = list(range(65)) + [65, 66, 66.5, 67, 68, 68.5, 69, 69.4, 70, 70.5, 71.2, 71.7, 72.3, 72.8, 74.3, 75]
MR75_VAL = [0.8, 0.8, 0.8, 0.8, 0.8, 0.8, 0.8, 0.8, 0.8, 0.8, 0.8, 0.8, 0.8, 0.8, 0.8, 0.8, 0.8, 0.8, 0.8, 0.8,
            0.8, 0.8, 0.8, 0.8, 0.8, 0.8, 0.8, 0.8, 0.8, 0.8, 0.8, 0.8, 0.8, 0.8, 0.8, 0.8, 0.8, 0.8, 0.8, 0.8,
            0.8, 0.8, 0.8, 0.8, 0.8, 0.8, 0.8, 0.8, 0.8, 0.8, 0.8, 0.8, 0.8, 0.8, 0.8, 0.8, 0.8, 0.8, 0.8, 0.8,
            0.8, 0.8, 0.8, 0.8, 0.8,
            2, 4, 5.3, 6.8, 9, 10.7, 12.4, 14.2, 18, 22, 24.5, 26, 30, 33.6, 37, 41]
MR80_AGE = list(range(71)) + [71, 72, 72.8, 73.5, 74.3, 75, 75.8, 76.6, 77.2, 78, 78.9, 79.5, 80]
MR80_VAL = [0.2, 0.2, 0.2, 0.2, 0.2, 0.2, 0.2, 0.2, 0.2, 0.2, 0.2, 0.2, 0.2, 0.2, 0.2, 0.2, 0.2, 0.2, 0.2, 0.2,
            0.2, 0.2, 0.2, 0.2, 0.2, 0.2, 0.2, 0.2, 0.2, 0.2, 0.2, 0.2, 0.2, 0.2, 0.2, 0.2, 0.2, 0.2, 0.2, 0.2,
            0.2, 0.2, 0.2, 0.2, 0.2, 0.2, 0.2, 0.2, 0.2, 0.2, 0.2, 0.2, 0.2, 0.2, 0.2, 0.2, 0.2, 0.2, 0.2, 0.2,
            0.2, 0.2, 0.2, 0.2, 0.2, 0.2, 0.2, 0.2, 0.2, 0.2, 0.2,
            0.4, 1.2, 3, 4.6, 6.5, 9, 12.5, 16.6, 22, 27.6, 33.8, 38.6, 44.5]
MR85_AGE = list(range(77)) + [77, 77.5, 78, 78.3, 79, 79.5, 80.3, 81.2, 82.4, 83.5, 84.7]
MR85_VAL = [0.2, 0.2, 0.2, 0.2, 0.2, 0.2, 0.2, 0.2, 0.2, 0.2, 0.2, 0.2, 0.2, 0.2, 0.2, 0.2, 0.2, 0.2, 0.2, 0.2,
            0.2, 0.2, 0.2, 0.2, 0.2, 0.2, 0.2, 0.2, 0.2, 0.2, 0.2, 0.2, 0.2, 0.2, 0.2, 0.2, 0.2, 0.2, 0.2, 0.2,
            0.2, 0.2, 0.2, 0.2, 0.2, 0.2, 0.2, 0.2, 0.2, 0.2, 0.2, 0.2, 0.2, 0.2, 0.2, 0.2, 0.2, 0.2, 0.2, 0.2,
            0.2, 0.2, 0.2, 0.2, 0.2, 0.2, 0.2, 0.2, 0.2, 0.2, 0.2, 0.2, 0.2, 0.2, 0.2, 0.2, 0.2,
            1.5, 3.6, 6.5, 10, 13.3, 16.6, 23.1, 29.7, 36.2, 42.7, 48.6]
MR90_AGE = list(range(81)) + [81, 81.5, 82.2, 83, 83.8, 84.5, 85.3, 86, 86.7, 87.6, 88.4, 89.6]
MR90_VAL = [0.6, 0.6, 0.6, 0.6, 0.6, 0.6, 0.6, 0.6, 0.6, 0.6, 0.6, 0.6, 0.6, 0.6, 0.6, 0.6, 0.6, 0.6, 0.6, 0.6,
            0.6, 0.6, 0.6, 0.6, 0.6, 0.6, 0.6, 0.6, 0.6, 0.6, 0.6, 0.6, 0.6, 0.6, 0.6, 0.6, 0.6, 0.6, 0.6, 0.6,
            0.6, 0.6, 0.6, 0.6, 0.6, 0.6, 0.6, 0.6, 0.6, 0.6, 0.6, 0.6, 0.6, 0.6, 0.6, 0.6, 0.6, 0.6, 0.6, 0.6,
            0.6, 0.6, 0.6, 0.6, 0.6, 0.6, 0.6, 0.6, 0.6, 0.6, 0.6, 0.6, 0.6, 0.6, 0.6, 0.6, 0.6, 0.6, 0.6, 0.6,
            0.6,
            1.8, 4.7, 7, 9.5, 16, 19.5, 23, 29.7, 36.4, 43.2, 49.3, 56.2]
MR95_AGE = list(range(87)) + [87, 87.6, 89, 90, 91, 92, 93, 94]
MR95_VAL = [0.2, 0.2, 0.2, 0.2, 0.2, 0.2, 0.2, 0.2, 0.2, 0.2, 0.2, 0.2, 0.2, 0.2, 0.2, 0.2, 0.2, 0.2, 0.2, 0.2,
            0.2, 0.2, 0.2, 0.2, 0.2, 0.2, 0.2, 0.2, 0.2, 0.2, 0.2, 0.2, 0.2, 0.2, 0.2, 0.2, 0.2, 0.2, 0.2, 0.2,
            0.2, 0.2, 0.2, 0.2, 0.2, 0.2, 0.2, 0.2, 0.2, 0.2, 0.2, 0.2, 0.2, 0.2, 0.2, 0.2, 0.2, 0.2, 0.2, 0.2,
            0.2, 0.2, 0.2, 0.2, 0.2, 0.2, 0.2, 0.2, 0.2, 0.2, 0.2, 0.2, 0.2, 0.2, 0.2, 0.2, 0.2, 0.2, 0.2, 0.2,
            0.2, 0.2, 0.2, 0.2, 0.2, 0.2, 0.2,
            1.5, 3.3, 11, 20.6, 30, 39.6, 48.6, 58.2]

OBS = [OBS_50, OBS_55, OBS_60, OBS_65, OBS_70, OBS_75, OBS_80, OBS_85, OBS_90, OBS_95]
DENSE = [DENSE_50, DENSE_55, DENSE_60, DENSE_65, DENSE_70, DENSE_75, DENSE_80, DENSE_85, DENSE_90, DENSE_95]
REG = [REG_50, REG_55, REG_60, REG_65, REG_70, REG_75, REG_80, REG_85, REG_90, REG_95]
FAN = [FAN_50, FAN_55, FAN_60, FAN_65, FAN_70, FAN_75, FAN_80, FAN_85, FAN_90, FAN_95]
MEAN_OBS = [(MO50_AGE, MO50_VAL), (MO55_AGE, MO55_VAL), (MO60_AGE, MO60_VAL), (MO65_AGE, MO65_VAL),
            (MO70_AGE, MO70_VAL), (MO75_AGE, MO75_VAL), (MO80_AGE, MO80_VAL), (MO85_AGE, MO85_VAL),
            (MO90_AGE, MO90_VAL), (MO95_AGE, MO95_VAL)]
MEAN_REG = [(MR50_AGE, MR50_VAL), (MR55_AGE, MR55_VAL), (MR60_AGE, MR60_VAL), (MR65_AGE, MR65_VAL),
            (MR70_AGE, MR70_VAL), (MR75_AGE, MR75_VAL), (MR80_AGE, MR80_VAL), (MR85_AGE, MR85_VAL),
            (MR90_AGE, MR90_VAL), (MR95_AGE, MR95_VAL)]

X_TICKS = [0, 20, 40, 60, 80, 100]
Y_TICKS = [0, 20, 40, 60, 80, 100]

# ---- styling
RED = "#F8766D"
CYAN = "#00BFC4"
PANEL_BG = "#E5E5E5"
STRIP_BG = "#CCCCCC"
GRID_MAJOR = "#FFFFFF"
GRID_MINOR = "#F2F2F2"
TICK_COL = "#7F7F7F"
FONT = "Liberation Sans, Arial, Helvetica, sans-serif"
TXT = 18.5

COL_LEFT = [80, 271, 462, 653, 844]
PANEL_W = 185
ROW_SPAN = [(33, 357), (364, 688), (783, 1092), (1099, 1408)]
STRIP_SPAN = [(7, 32), (757, 782)]
RSTRIP_X = (1031, 1055)
X_RANGE = [-5.2, 104.5]
Y_RANGE = [-4.96, 104.05]


def fx(px):
    return px / W


def fy(py):
    return 1 - py / H


def step_paths(trajs, end):
    xs, ys = [], []
    for t in trajs:
        if len(t) == 4:
            a0, y1, e, top = t
            xs += [a0, a0, e, end, None]
            ys += [0, y1, y1, top, None]
        else:
            a0, y1, a1, y2, e, top = t
            xs += [a0, a0, a1, a1, e, end, None]
            ys += [0, y1, y1, y2, y2, top, None]
    return xs, ys


def level_paths(trajs):
    xs, ys = [], []
    for lvl, xe, ta, ts in trajs:
        xs += [0, xe, ta, None]
        ys += [lvl, lvl, ts, None]
    return xs, ys


def polygons(polys):
    xs, ys = [], []
    for poly in polys:
        xs += [p[0] for p in poly] + [poly[0][0], None]
        ys += [p[1] for p in poly] + [poly[0][1], None]
    return xs, ys


fig = go.Figure()
layout = {}


def add_panel(k, col, row, color, band_polys, lx, ly, med, mean):
    xa = "x" if k == 1 else f"x{k}"
    ya = "y" if k == 1 else f"y{k}"
    bx, by = polygons(band_polys)
    fig.add_trace(go.Scatter(x=bx, y=by, mode="lines", fill="toself", fillcolor=color,
                             line=dict(width=0, color=color), xaxis=xa, yaxis=ya,
                             hoverinfo="skip", showlegend=False))
    fig.add_trace(go.Scatter(x=lx, y=ly, mode="lines", line=dict(color=color, width=1.7),
                             xaxis=xa, yaxis=ya, hoverinfo="skip", showlegend=False))
    fig.add_trace(go.Scatter(x=[p[0] for p in med], y=[p[1] for p in med], mode="lines",
                             line=dict(color="black", width=4.5), xaxis=xa, yaxis=ya,
                             hoverinfo="skip", showlegend=False))
    fig.add_trace(go.Scatter(x=mean[0], y=mean[1], mode="markers",
                             marker=dict(symbol="circle-open", size=9, color="black",
                                         line=dict(width=1.5, color="black")),
                             xaxis=xa, yaxis=ya, hoverinfo="skip", showlegend=False))

    top, bot = ROW_SPAN[row]
    left = COL_LEFT[col]
    show_x = row in (1, 3)
    show_y = col == 0
    common = dict(
        tickmode="array", ticklen=4, tickwidth=1, tickcolor=TICK_COL,
        tickfont=dict(family=FONT, size=TXT, color=TICK_COL),
        showgrid=True, gridcolor=GRID_MAJOR, gridwidth=1.8, zeroline=False, showline=False,
        minor=dict(tickvals=[10, 30, 50, 70, 90], showgrid=True, gridcolor=GRID_MINOR,
                   gridwidth=0.9, ticks=""),
        fixedrange=True, automargin=False,
    )
    layout["xaxis" if k == 1 else f"xaxis{k}"] = dict(
        domain=[fx(left), fx(left + PANEL_W)], anchor=ya, range=X_RANGE,
        tickvals=X_TICKS, ticktext=[str(v) for v in X_TICKS],
        showticklabels=show_x, ticks="outside" if show_x else "", ticklabelstandoff=0, **common)
    layout["yaxis" if k == 1 else f"yaxis{k}"] = dict(
        domain=[fy(bot), fy(top)], anchor=xa, range=Y_RANGE,
        tickvals=Y_TICKS, ticktext=[str(v) for v in Y_TICKS],
        showticklabels=show_y, ticks="outside" if show_y else "", ticklabelstandoff=4, **common)


for g in range(10):
    block = g // 5
    col = g % 5
    row = block * 2
    k = row * 5 + col + 1
    lx, ly = step_paths(OBS[g], END_AGE[g])
    add_panel(k, col, row, RED, DENSE[g], lx, ly, MED_OBS[g], MEAN_OBS[g])
    row = block * 2 + 1
    k = row * 5 + col + 1
    lx, ly = level_paths(REG[g])
    add_panel(k, col, row, CYAN, [FAN[g]], lx, ly, MED_REG[g], MEAN_REG[g])

shapes = []
annotations = []
# facet strips across the top of each block
for block in range(2):
    s_top, s_bot = STRIP_SPAN[block]
    for col in range(5):
        left = COL_LEFT[col]
        shapes.append(dict(type="rect", xref="paper", yref="paper",
                           x0=fx(left), x1=fx(left + PANEL_W), y0=fy(s_bot), y1=fy(s_top),
                           fillcolor=STRIP_BG, line=dict(width=0), layer="below"))
        annotations.append(dict(text=GROUPS[block * 5 + col], xref="paper", yref="paper",
                                x=fx(left + PANEL_W / 2), y=fy((s_top + s_bot) / 2),
                                xanchor="center", yanchor="middle", showarrow=False,
                                font=dict(family=FONT, size=TXT, color="#1A1A1A")))
# row strips on the right
for row in range(4):
    top, bot = ROW_SPAN[row]
    shapes.append(dict(type="rect", xref="paper", yref="paper",
                       x0=fx(RSTRIP_X[0]), x1=fx(RSTRIP_X[1]), y0=fy(bot), y1=fy(top),
                       fillcolor=STRIP_BG, line=dict(width=0), layer="below"))
    annotations.append(dict(text=ROW_LABELS[row % 2], xref="paper", yref="paper",
                            x=fx((RSTRIP_X[0] + RSTRIP_X[1]) / 2), y=fy((top + bot) / 2),
                            xanchor="center", yanchor="middle", showarrow=False, textangle=90,
                            font=dict(family=FONT, size=TXT, color="#1A1A1A")))
# axis titles
for block in range(2):
    top = ROW_SPAN[block * 2][0]
    bot = ROW_SPAN[block * 2 + 1][1]
    annotations.append(dict(text="SCORE", xref="paper", yref="paper", x=fx(21), y=fy((top + bot) / 2),
                            xanchor="center", yanchor="middle", showarrow=False, textangle=-90,
                            font=dict(family=FONT, size=22, color="black")))
annotations.append(dict(text="AGE", xref="paper", yref="paper", x=fx(554), y=fy(1452),
                        xanchor="center", yanchor="middle", showarrow=False, borderpad=0,
                        font=dict(family=FONT, size=20, color="black")))

fig.update_layout(
    width=W, height=H, margin=dict(l=0, r=0, t=0, b=0, pad=0), autosize=False,
    paper_bgcolor="white", plot_bgcolor=PANEL_BG, showlegend=False,
    shapes=shapes, annotations=annotations, **layout,
)

# keep the page exactly the size of the figure (no body margin, no scrollbars)
PAGE_CSS = ("document.documentElement.style.margin='0';document.documentElement.style.overflow='hidden';"
            "document.body.style.margin='0';document.body.style.overflow='hidden';")

fig.write_html("out.html", include_plotlyjs=True,
               config={"displayModeBar": False, "responsive": False},
               post_script=PAGE_CSS)
